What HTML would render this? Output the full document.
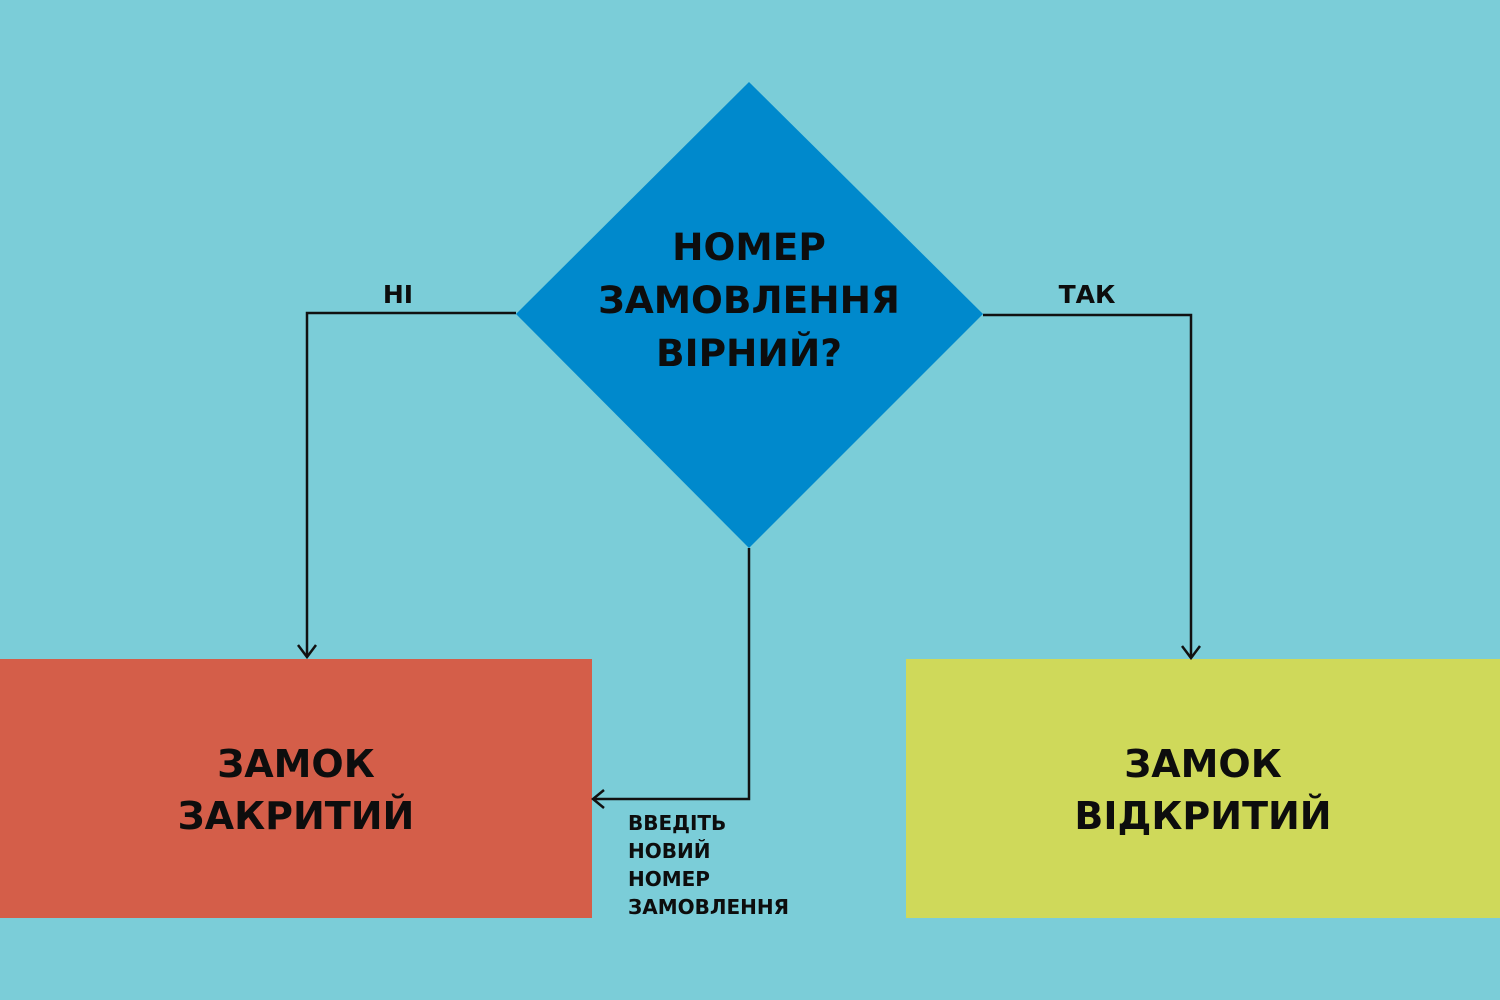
<!DOCTYPE html>
<html><head><meta charset="utf-8"><style>
html,body{margin:0;padding:0;width:1500px;height:1000px;overflow:hidden;background:#7bcdd8}
svg{display:block}
text{font-family:"DejaVu Sans","Liberation Sans",sans-serif;font-weight:bold;fill:#0d0d0d}
</style></head><body>
<svg width="1500" height="1000" viewBox="0 0 1500 1000" xmlns="http://www.w3.org/2000/svg">
<rect width="1500" height="1000" fill="#7bcdd8"/>
<polygon points="749,82 983,314 749,548 516,314" fill="#0089cc"/>
<rect x="0" y="659" width="592" height="259" fill="#d45e49"/>
<rect x="906" y="659" width="594" height="259" fill="#cfd95a"/>
<g fill="none" stroke="#111" stroke-width="2.5">
<polyline points="516,313 307,313 307,657"/>
<polyline points="298,645 307,657 316,645"/>
<polyline points="983,315 1191,315 1191,658"/>
<polyline points="1182,646 1191,658 1200,646"/>
<polyline points="749,548 749,799 593,799"/>
<polyline points="604,790 593,799 604,808"/>
</g>
<g text-anchor="middle" font-size="37.5">
<text x="749" y="260">НОМЕР</text>
<text x="749" y="313">ЗАМОВЛЕННЯ</text>
<text x="749" y="366">ВІРНИЙ?</text>
</g>
<g text-anchor="middle" font-size="38">
<text x="296" y="777">ЗАМОК</text>
<text x="296" y="829">ЗАКРИТИЙ</text>
<text x="1203" y="777">ЗАМОК</text>
<text x="1203" y="829">ВІДКРИТИЙ</text>
</g>
<g font-size="25" text-anchor="middle">
<text x="398" y="303">НІ</text>
<text x="1087" y="303">ТАК</text>
</g>
<g font-size="20">
<text x="628" y="830">ВВЕДІТЬ</text>
<text x="628" y="858">НОВИЙ</text>
<text x="628" y="886">НОМЕР</text>
<text x="628" y="914">ЗАМОВЛЕННЯ</text>
</g>
</svg>
</body></html>
